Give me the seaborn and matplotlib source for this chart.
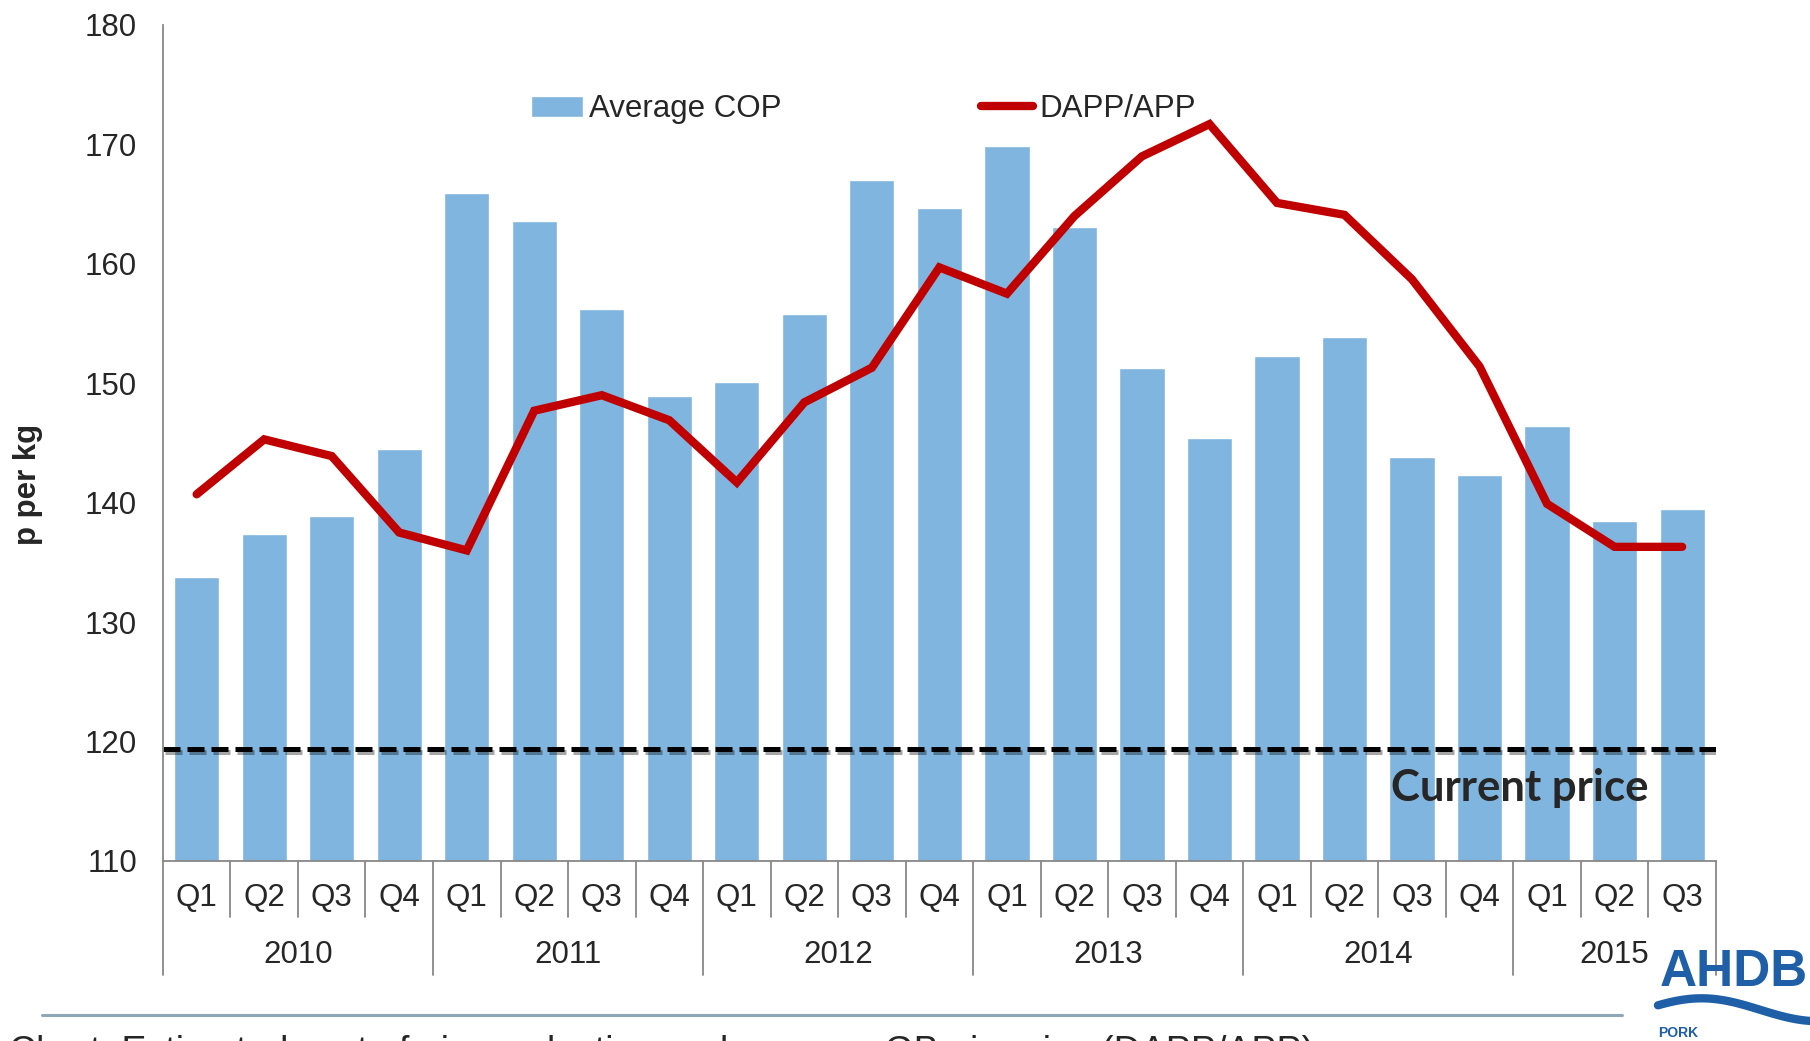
import numpy as np
import pandas as pd
import matplotlib
matplotlib.use('Agg')
import matplotlib.pyplot as plt
import matplotlib.patheffects as pe
from matplotlib.lines import Line2D
import seaborn as sns

years = ['2010', '2011', '2012', '2013', '2014', '2015']
quarters = ['Q1', 'Q2', 'Q3', 'Q4'] * 5 + ['Q1', 'Q2', 'Q3']
avg_cop = [133.8, 137.4, 138.9, 144.5,
           165.9, 163.6, 156.2, 148.9,
           150.1, 155.8, 167.0, 164.7,
           169.9, 163.1, 151.3, 145.4,
           152.3, 153.9, 143.8, 142.3,
           146.4, 138.5, 139.5]
dapp = [140.7, 145.3, 143.9, 137.5,
        136.0, 147.7, 149.0, 146.9,
        141.7, 148.4, 151.3, 159.7,
        157.5, 164.0, 169.0, 171.7,
        165.1, 164.1, 158.7, 151.4,
        139.9, 136.3, 136.3]
current_price = 119.4

df = pd.DataFrame({'pos': np.arange(len(quarters)), 'cop': avg_cop, 'dapp': dapp})

sns.set_style('white')
plt.rcParams['font.family'] = ['Liberation Sans', 'DejaVu Sans']

fig = plt.figure(figsize=(18.1, 10.41), dpi=100)
ax = fig.add_axes([0.090, 0.173, 0.858, 0.803])

sns.barplot(data=df, x='pos', y='cop', color='#7FB5DE', saturation=1, width=0.67,
            ax=ax, label='Average COP')
sns.lineplot(data=df, x='pos', y='dapp', color='#C00000', lw=6, ax=ax,
             label='DAPP/APP', solid_joinstyle='miter')

ax.axhline(current_price, color='black', ls='--', lw=3.6, dashes=(3.4, 1.4),
           path_effects=[pe.SimpleLineShadow(offset=(1.5, -2.5), alpha=0.35), pe.Normal()])
ax.text(19.6, 116.1, 'Current price', fontsize=31.5, fontweight='bold',
        family=['Lato', 'DejaVu Sans'], ha='center', va='center')

ax.set_ylim(110, 180)
ax.set_xlim(-0.5, len(quarters) - 0.5)
ax.set_yticks(range(110, 181, 10))
ax.tick_params(axis='y', labelsize=22.5, length=7, width=1.2, color='#888888', pad=11.5)
ax.set_xticks([])
ax.set_xlabel('')
ax.set_ylabel('p per kg', fontsize=22.5, fontweight='bold')
ax.yaxis.set_label_coords(-0.077, 0.45)
for s in ['top', 'right']:
    ax.spines[s].set_visible(False)
for s in ['left', 'bottom']:
    ax.spines[s].set_color('#888888')
    ax.spines[s].set_linewidth(1.3)

# two-level category axis
trans = ax.get_xaxis_transform()
for i, q in enumerate(quarters):
    ax.text(i, -0.044, q, transform=trans, ha='center', va='center', fontsize=22.5)
for i in range(len(quarters) + 1):
    long = i % 4 == 0 or i == len(quarters)
    ax.plot([i - 0.5, i - 0.5], [0, -0.136 if long else -0.067], transform=trans,
            color='#888888', lw=1.3, clip_on=False)
for k, y in enumerate(years):
    start = k * 4
    end = min(start + 4, len(quarters))
    ax.text((start + end - 1) / 2, -0.112, y, transform=trans, ha='center', va='center',
            fontsize=22.5)

h, l = ax.get_legend_handles_labels()
order = [l.index('Average COP'), l.index('DAPP/APP')]
ax.legend([h[i] for i in order], [l[i] for i in order], loc='center',
          bbox_to_anchor=(0.451, 0.899), ncol=2, frameon=False,
          fontsize=22.5, columnspacing=6.4, handlelength=1.65, handletextpad=0.2)

# footer rule, caption and logo
fig.add_artist(Line2D([0.023, 0.896], [0.025, 0.025], transform=fig.transFigure,
                      color='#8FA8B8', lw=2.2))
fig.text(0.005, 0.006, 'Chart: Estimated cost of pig production and average GB pig price (DAPP/APP)',
         fontsize=27, va='top', ha='left')
fig.text(0.958, 0.066, 'AHDB', fontsize=37, fontweight='bold', color='#1F5FA8',
         ha='center', va='center')
wx = np.linspace(0.916, 1.0, 60)
wy = 0.030 + 0.011 * np.sin((wx - 0.916) / 0.084 * np.pi * 1.3 + 0.4)
fig.add_artist(Line2D(wx, wy, transform=fig.transFigure, color='#1F5FA8', lw=6))
fig.text(0.916, 0.008, 'PORK', fontsize=10, fontweight='bold', color='#1F5FA8',
         ha='left', va='center')

fig.savefig('out.png', dpi=100)
